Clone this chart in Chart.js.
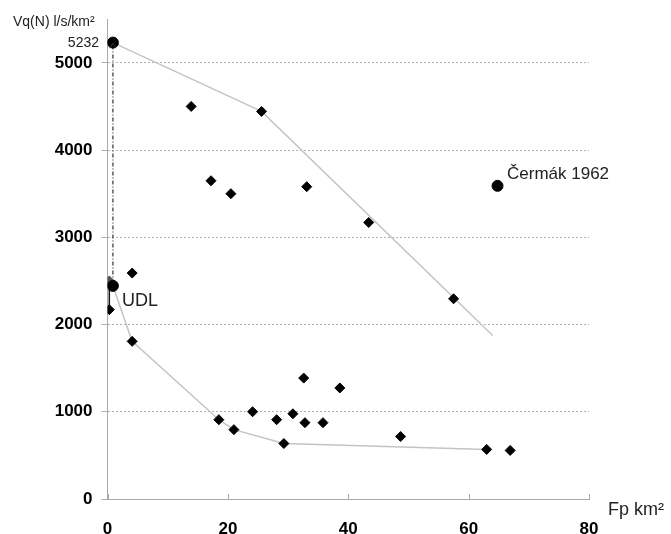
<!DOCTYPE html>
<html>
<head>
<meta charset="utf-8">
<script src="https://cdn.jsdelivr.net/npm/chart.js@4/dist/chart.umd.min.js"></script>
<style>
  body { margin: 0; background: #fff; }
  #wrap { width: 671px; height: 534px; }
</style>
</head>
<body>
<div id="wrap"><canvas id="chart"></canvas></div>
<script>
// measured basins (Fp km2, Vq(N) l/s/km2)
const basinArea = [0.3, 0.3, 4.1, 4.1, 13.9, 17.2, 20.5, 25.6, 33.1, 43.4, 57.5,
  18.5, 21.0, 24.1, 28.1, 29.3, 30.8, 32.6, 32.8, 35.8, 38.6, 48.7, 63.0, 66.9];
const basinFlow = [2500, 2170, 2590, 1807, 4500, 3648, 3500, 4443, 3580, 3170, 2295,
  909, 795, 1000, 909, 636, 977, 1386, 875, 875, 1273, 716, 568, 557];

// upper and lower envelope curves
const upperArea = [0.9, 25.6, 64.0];
const upperFlow = [5232, 4443, 1875];
const lowerArea = [0.9, 4.1, 18.5, 21.0, 29.3, 63.0];
const lowerFlow = [2443, 1807, 909, 795, 636, 568];

// highlighted points: max value, UDL, Čermák 1962
const specialArea = [0.9, 0.9, 64.8];
const specialFlow = [5232, 2443, 3590];

// UDL range bar and the dash-dot arrow
const udlArea = [0.3, 0.3];
const udlFlow = [2500, 2170];
const arrowArea = [0.9, 0.9];
const arrowFlow = [2470, 5225];

const xTicks = [0, 20, 40, 60, 80];
const yTicks = [0, 1000, 2000, 3000, 4000, 5000];

const toPts = (xs, ys) => xs.map((x, i) => ({ x: x, y: ys[i] }));

const textPlugin = {
  id: 'annotations',
  afterDatasetsDraw(chart) {
    const ctx = chart.ctx;
    const x = chart.scales.x, y = chart.scales.y;
    const area = chart.chartArea;
    ctx.save();
    // small x ticks pointing up
    ctx.strokeStyle = '#aaa';
    ctx.lineWidth = 1;
    xTicks.forEach(v => {
      const px = Math.round(x.getPixelForValue(v)) + 0.5;
      ctx.beginPath();
      ctx.moveTo(px, area.bottom);
      ctx.lineTo(px, area.bottom - 5);
      ctx.stroke();
    });
    // arrow head
    const ax = x.getPixelForValue(arrowArea[1]);
    const ay = y.getPixelForValue(arrowFlow[1]);
    ctx.strokeStyle = '#333';
    ctx.beginPath();
    ctx.moveTo(ax - 3, ay + 5);
    ctx.lineTo(ax, ay);
    ctx.lineTo(ax + 3, ay + 5);
    ctx.stroke();

    ctx.fillStyle = '#222';
    ctx.font = '14px "Liberation Sans", Arial, sans-serif';
    ctx.textAlign = 'left';
    ctx.textBaseline = 'alphabetic';
    ctx.fillText('Vq(N) l/s/km²', 13, 26);
    ctx.textAlign = 'right';
    ctx.fillText(String(specialFlow[0]), 99, 47);
    ctx.textAlign = 'left';
    ctx.font = '18px "Liberation Sans", Arial, sans-serif';
    ctx.fillText('Fp km²', 608, 515);
    ctx.fillText('UDL', 122, 306);
    ctx.font = '17px "Liberation Sans", Arial, sans-serif';
    ctx.fillText('Čermák 1962', 507, 179);
    ctx.restore();
  }
};

new Chart(document.getElementById('chart'), {
  type: 'scatter',
  data: {
    datasets: [
      {
        label: 'upper',
        data: toPts(upperArea, upperFlow),
        showLine: true,
        borderColor: '#c4c4c4',
        borderWidth: 1.5,
        pointRadius: 0,
        order: 5
      },
      {
        label: 'lower',
        data: toPts(lowerArea, lowerFlow),
        showLine: true,
        borderColor: '#c4c4c4',
        borderWidth: 1.5,
        pointRadius: 0,
        order: 5
      },
      {
        label: 'arrow',
        data: toPts(arrowArea, arrowFlow),
        showLine: true,
        borderColor: '#333',
        borderWidth: 1.2,
        borderDash: [4, 2, 1, 2],
        pointRadius: 0,
        order: 4
      },
      {
        label: 'udl',
        data: toPts(udlArea, udlFlow),
        showLine: true,
        borderColor: '#111',
        borderWidth: 1.5,
        pointRadius: 0,
        order: 4
      },
      {
        label: 'basins',
        data: toPts(basinArea, basinFlow),
        pointStyle: 'rectRot',
        pointRadius: 5,
        backgroundColor: basinFlow.map((v, i) => i === 0 ? '#555' : '#000'),
        borderColor: basinFlow.map((v, i) => i === 0 ? '#555' : '#000'),
        borderWidth: 1,
        order: 2
      },
      {
        label: 'special',
        data: toPts(specialArea, specialFlow),
        pointStyle: 'circle',
        pointRadius: 5.5,
        backgroundColor: '#000',
        borderColor: '#000',
        order: 1
      }
    ]
  },
  options: {
    responsive: true,
    maintainAspectRatio: false,
    animation: false,
    layout: { padding: { left: 0, right: 82, top: 15, bottom: 0 } },
    plugins: {
      legend: { display: false },
      tooltip: { enabled: false }
    },
    scales: {
      x: {
        type: 'linear',
        min: 0,
        max: 80,
        afterBuildTicks: s => { s.ticks = xTicks.map(v => ({ value: v })); },
        afterFit: s => { s.height = 35; },
        grid: { display: false },
        border: { display: true, color: '#aaa', width: 1 },
        ticks: {
          padding: 12,
          color: '#000',
          callback: v => String(v),
          font: { family: '"Liberation Sans", Arial', size: 17, weight: 'bold' }
        }
      },
      y: {
        type: 'linear',
        min: 0,
        max: 5500,
        afterBuildTicks: s => { s.ticks = yTicks.map(v => ({ value: v })); },
        afterFit: s => { s.width = 107.5; },
        grid: { color: '#b0b0b0', tickLength: 6, lineWidth: 1 },
        border: { display: true, color: '#aaa', width: 1, dash: [2, 2] },
        ticks: {
          padding: 9,
          color: '#000',
          callback: v => String(v),
          font: { family: '"Liberation Sans", Arial', size: 17, weight: 'bold' }
        }
      }
    }
  },
  plugins: [textPlugin]
});
</script>
</body>
</html>
